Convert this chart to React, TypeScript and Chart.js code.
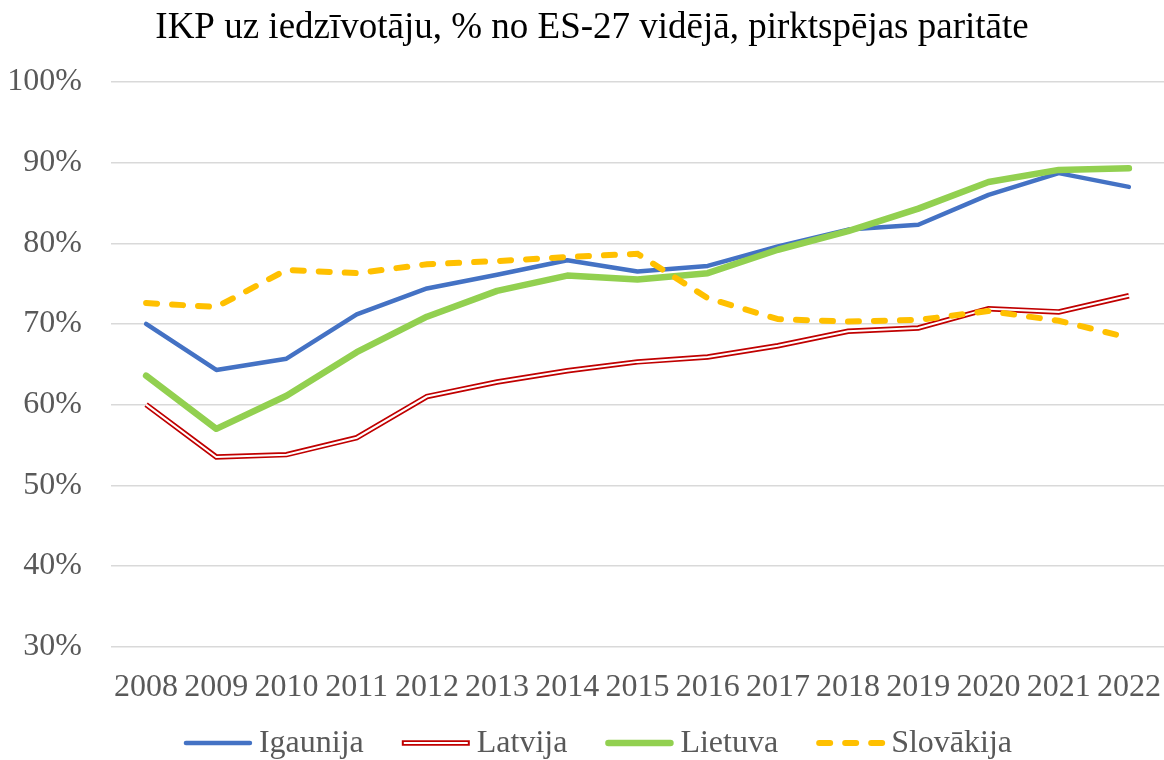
import React, { useEffect, useRef } from "react";
import { Chart, registerables } from "chart.js";

Chart.register(...registerables);

const years = ["2008", "2009", "2010", "2011", "2012", "2013", "2014", "2015", "2016", "2017", "2018", "2019", "2020", "2021", "2022"];
const igaunija = [70.0, 64.3, 65.7, 71.2, 74.4, 76.1, 77.9, 76.5, 77.2, 79.6, 81.7, 82.3, 86.0, 88.7, 87.0];
const latvija = [60.0, 53.5, 53.8, 55.9, 61.0, 62.8, 64.2, 65.3, 65.9, 67.3, 69.1, 69.5, 71.9, 71.5, 73.5];
const lietuva = [63.6, 57.0, 61.1, 66.5, 70.9, 74.1, 76.0, 75.5, 76.3, 79.2, 81.5, 84.3, 87.6, 89.1, 89.3];
const slovakija = [72.6, 72.1, 76.7, 76.3, 77.4, 77.8, 78.3, 78.7, 73.2, 70.6, 70.3, 70.5, 71.6, 70.4, 68.3];
const seriesNames = ["Igaunija", "Latvija", "Lietuva", "Slovākija"];
const titleText = "IKP uz iedzīvotāju, % no ES-27 vidējā, pirktspējas paritāte";

const BLUE = "#4472C4";
const RED = "#C00000";
const GREEN = "#92D050";
const YELLOW = "#FFC000";
const FONT = "'Liberation Serif', 'Times New Roman', serif";

const titlePlugin = {
  id: "customTitle",
  afterDraw(chart: any) {
    const ctx = chart.ctx as CanvasRenderingContext2D;
    ctx.save();
    ctx.font = `37px ${FONT}`;
    ctx.fillStyle = "#000000";
    ctx.textAlign = "center";
    ctx.textBaseline = "middle";
    ctx.fillText(titleText, 592, 28);
    ctx.restore();
  },
};

const legendPlugin = {
  id: "customLegend",
  afterDraw(chart: any) {
    const ctx = chart.ctx as CanvasRenderingContext2D;
    ctx.save();
    ctx.font = `32px ${FONT}`;
    const lineLen = 68;
    const textGap = 7;
    const itemGap = 38;
    const widths = seriesNames.map((n) => ctx.measureText(n).width);
    const total = widths.reduce((a, w) => a + lineLen + textGap + w, 0) + itemGap * (seriesNames.length - 1);
    let x = 598 - total / 2;
    const y = 743;
    seriesNames.forEach((name, i) => {
      ctx.lineCap = "round";
      ctx.setLineDash([]);
      if (i === 0) {
        ctx.strokeStyle = BLUE;
        ctx.lineWidth = 4.5;
        ctx.beginPath(); ctx.moveTo(x + 2, y); ctx.lineTo(x + lineLen - 2, y); ctx.stroke();
      } else if (i === 1) {
        ctx.lineCap = "butt";
        ctx.strokeStyle = RED;
        ctx.lineWidth = 5.5;
        ctx.beginPath(); ctx.moveTo(x, y); ctx.lineTo(x + lineLen, y); ctx.stroke();
        ctx.strokeStyle = "#ffffff";
        ctx.lineWidth = 2;
        ctx.beginPath(); ctx.moveTo(x + 2, y); ctx.lineTo(x + lineLen - 2, y); ctx.stroke();
      } else if (i === 2) {
        ctx.strokeStyle = GREEN;
        ctx.lineWidth = 6.5;
        ctx.beginPath(); ctx.moveTo(x + 3, y); ctx.lineTo(x + lineLen - 3, y); ctx.stroke();
      } else {
        ctx.strokeStyle = YELLOW;
        ctx.lineWidth = 6;
        ctx.setLineDash([11, 15]);
        ctx.beginPath(); ctx.moveTo(x + 3, y); ctx.lineTo(x + lineLen, y); ctx.stroke();
        ctx.setLineDash([]);
      }
      x += lineLen + textGap;
      ctx.fillStyle = "#595959";
      ctx.textBaseline = "middle";
      ctx.textAlign = "left";
      ctx.fillText(name, x, y + 1);
      x += widths[i] + itemGap;
    });
    ctx.restore();
  },
};

export default function App() {
  const ref = useRef<HTMLCanvasElement | null>(null);
  useEffect(() => {
    document.body.style.margin = "0";
    if (!ref.current) return;
    const chart = new Chart(ref.current, {
      type: "line",
      data: {
        labels: years,
        datasets: [
          { label: seriesNames[0], data: igaunija, borderColor: BLUE, borderWidth: 4.5, pointRadius: 0, tension: 0, order: 4, borderCapStyle: "round", borderJoinStyle: "round" },
          { label: seriesNames[1], data: latvija, borderColor: RED, borderWidth: 5.5, pointRadius: 0, tension: 0, order: 3 },
          { label: seriesNames[1] + "_inner", data: latvija, borderColor: "#ffffff", borderWidth: 2, pointRadius: 0, tension: 0, order: 2 },
          { label: seriesNames[2], data: lietuva, borderColor: GREEN, borderWidth: 6.5, pointRadius: 0, tension: 0, order: 1, borderCapStyle: "round", borderJoinStyle: "round" },
          { label: seriesNames[3], data: slovakija, borderColor: YELLOW, borderWidth: 6, borderDash: [11, 15], borderCapStyle: "round", pointRadius: 0, tension: 0, order: 0 },
        ],
      },
      options: {
        animation: false,
        responsive: false,
        layout: { padding: { left: 0, right: 0, top: 82, bottom: 31 } },
        plugins: {
          legend: { display: false },
          tooltip: { enabled: false },
          title: { display: false },
        },
        scales: {
          x: {
            offset: true,
            grid: { display: false, drawTicks: false },
            border: { display: false },
            ticks: { color: "#595959", font: { family: FONT, size: 32 }, padding: 22, maxRotation: 0, autoSkip: false },
            afterFit: (s: any) => { s.paddingRight = 0; s.paddingLeft = 0; },
          },
          y: {
            min: 30,
            max: 100,
            grid: { color: "#d9d9d9", lineWidth: 1.5, drawTicks: false },
            border: { display: false },
            ticks: { stepSize: 10, color: "#595959", font: { family: FONT, size: 32 }, padding: 29, callback: (v: any) => v + "%" },
            afterFit: (s: any) => { s.width = 111; s.paddingTop = 0; s.paddingBottom = 0; },
          },
        },
      },
      plugins: [titlePlugin, legendPlugin],
    });
    return () => chart.destroy();
  }, []);
  return (
    <div style={{ position: "absolute", left: 0, top: 0, width: 1164, height: 760, background: "#fff" }}>
      <canvas ref={ref} width={1164} height={760} />
    </div>
  );
}
